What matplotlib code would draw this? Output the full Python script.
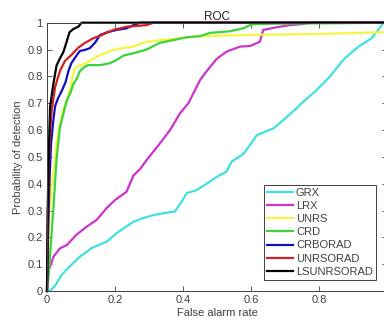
import matplotlib
matplotlib.use("Agg")
import matplotlib.pyplot as plt

plt.rcParams['font.family'] = ['Liberation Sans', 'DejaVu Sans']

# ---- data ----
GRX_x = [0, 0.009, 0.024, 0.043, 0.068, 0.097, 0.131, 0.176, 0.205, 0.254, 0.283, 0.313, 0.352, 0.376,
         0.396, 0.411, 0.44, 0.47, 0.50, 0.528, 0.543, 0.577, 0.597, 0.617, 0.666, 0.695, 0.734, 0.749,
         0.793, 0.832, 0.867, 0.881, 0.916, 0.955, 0.989, 1.0]
GRX_y = [0, 0, 0.02, 0.06, 0.093, 0.128, 0.16, 0.184, 0.216, 0.258, 0.272, 0.283, 0.292, 0.296,
         0.333, 0.365, 0.376, 0.40, 0.426, 0.445, 0.482, 0.51, 0.544, 0.581, 0.606, 0.637, 0.681, 0.70,
         0.749, 0.799, 0.855, 0.873, 0.911, 0.942, 0.998, 1.0]

LRX_x = [0, 0.002, 0.009, 0.019, 0.038, 0.058, 0.087, 0.117, 0.146, 0.176, 0.2, 0.234, 0.254, 0.274,
         0.293, 0.332, 0.362, 0.391, 0.416, 0.45, 0.47, 0.499, 0.528, 0.568, 0.597, 0.626, 0.636, 0.675,
         0.715, 0.754, 0.77, 1.0]
LRX_y = [0, 0.07, 0.09, 0.128, 0.159, 0.171, 0.21, 0.24, 0.265, 0.31, 0.339, 0.37, 0.43, 0.455,
         0.488, 0.55, 0.60, 0.662, 0.70, 0.786, 0.82, 0.865, 0.892, 0.911, 0.913, 0.929, 0.973, 0.983,
         0.991, 0.995, 1.0, 1.0]

UNRS_x = [0, 0.004, 0.008, 0.014, 0.02, 0.028, 0.038, 0.048, 0.06, 0.068, 0.075, 0.082, 0.092, 0.107,
          0.126, 0.146, 0.185, 0.215, 0.254, 0.283, 0.313, 0.37, 0.43, 0.5, 0.626, 0.8, 1.0]
UNRS_y = [0, 0.2, 0.3, 0.4, 0.45, 0.55, 0.625, 0.675, 0.72, 0.75, 0.80, 0.83, 0.838, 0.845,
          0.858, 0.873, 0.895, 0.904, 0.911, 0.925, 0.932, 0.94, 0.948, 0.952, 0.955, 0.958, 0.965]

CRD_x = [0, 0.004, 0.01, 0.02, 0.028, 0.038, 0.048, 0.058, 0.068, 0.077, 0.087, 0.097, 0.11, 0.121,
         0.156, 0.185, 0.205, 0.224, 0.254, 0.293, 0.332, 0.371, 0.411, 0.45, 0.479, 0.538, 0.577,
         0.602, 0.65, 0.852, 1.0]
CRD_y = [0, 0.05, 0.15, 0.33, 0.49, 0.61, 0.66, 0.71, 0.735, 0.77, 0.79, 0.82, 0.835, 0.842,
         0.842, 0.849, 0.861, 0.877, 0.886, 0.9, 0.925, 0.935, 0.946, 0.95, 0.962, 0.968, 0.979,
         0.994, 0.996, 0.998, 1.0]

CRBORAD_x = [0, 0.003, 0.007, 0.012, 0.019, 0.024, 0.033, 0.045, 0.055, 0.063, 0.072, 0.087, 0.097,
             0.11, 0.126, 0.141, 0.156, 0.176, 0.205, 0.234, 0.254, 0.274, 1.0]
CRBORAD_y = [0, 0.2, 0.4, 0.55, 0.64, 0.69, 0.72, 0.75, 0.78, 0.82, 0.85, 0.878, 0.895,
             0.898, 0.905, 0.925, 0.954, 0.964, 0.973, 0.979, 0.991, 1.0, 1.0]

UNRSORAD_x = [0, 0.002, 0.005, 0.009, 0.014, 0.024, 0.038, 0.053, 0.072, 0.092, 0.112, 0.136, 0.161,
              0.195, 0.234, 0.293, 0.313, 1.0]
UNRSORAD_y = [0, 0.25, 0.45, 0.587, 0.675, 0.761, 0.82, 0.858, 0.88, 0.907, 0.925, 0.942, 0.954,
              0.973, 0.985, 0.991, 1.0, 1.0]

LSUNRSORAD_x = [0, 0.002, 0.005, 0.009, 0.019, 0.028, 0.038, 0.048, 0.058, 0.066, 0.077, 0.092, 0.102, 1.0]
LSUNRSORAD_y = [0, 0.3, 0.5, 0.687, 0.774, 0.84, 0.867, 0.89, 0.93, 0.964, 0.976, 0.985, 1.0, 1.0]

labels = ["GRX", "LRX", "UNRS", "CRD", "CRBORAD", "UNRSORAD", "LSUNRSORAD"]
colors = ["#3fe0e0", "#cc33cc", "#f5f542", "#3ad43a", "#1010c0", "#d02020", "#000000"]
series = [(GRX_x, GRX_y), (LRX_x, LRX_y), (UNRS_x, UNRS_y), (CRD_x, CRD_y),
          (CRBORAD_x, CRBORAD_y), (UNRSORAD_x, UNRSORAD_y), (LSUNRSORAD_x, LSUNRSORAD_y)]

xticks = [0, 0.2, 0.4, 0.6, 0.8, 1.0]
# the "1" label lies outside the cropped reference picture
xticklabels = ["0", "0.2", "0.4", "0.6", "0.8", ""]
yticks = [0, 0.1, 0.2, 0.3, 0.4, 0.5, 0.6, 0.7, 0.8, 0.9, 1.0]
yticklabels = ["0", "0.1", "0.2", "0.3", "0.4", "0.5", "0.6", "0.7", "0.8", "0.9", "1"]

# ---- figure ----
fig = plt.figure(figsize=(3.84, 3.27), dpi=100)
ax = fig.add_axes([47 / 384, 36 / 327, 340 / 384, 268.3 / 327])

for (x, y), lab, c in zip(series, labels, colors):
    ax.plot(x, y, color=c, lw=1.6, label=lab, clip_on=False)

txtc = "#404040"
ax.set_xlim(0, 1)
ax.set_ylim(0, 1)
ax.set_xticks(xticks)
ax.set_xticklabels(xticklabels)
ax.set_yticks(yticks)
ax.set_yticklabels(yticklabels)
ax.tick_params(direction="in", length=3.5, width=0.6, top=True, right=True,
               labelsize=8, colors=txtc, pad=3)
for s in ax.spines.values():
    s.set_color("#404040")
    s.set_linewidth(0.7)

ax.set_title("ROC", fontsize=8.5, color="#262626", pad=2)
ax.set_xlabel("False alarm rate", fontsize=8, color=txtc, labelpad=2)
ax.set_ylabel("Probability of detection", fontsize=8, color=txtc, labelpad=3)

leg = ax.legend(loc="lower right", bbox_to_anchor=(0.968, 0.041), fontsize=8,
                frameon=True, fancybox=False, framealpha=1, edgecolor="#404040",
                handlelength=2.3, handletextpad=0.3, labelspacing=0.28, borderpad=0.3,
                borderaxespad=0)
leg.get_frame().set_linewidth(0.7)
for t in leg.get_texts():
    t.set_color(txtc)

fig.savefig("out.png", dpi=100)
